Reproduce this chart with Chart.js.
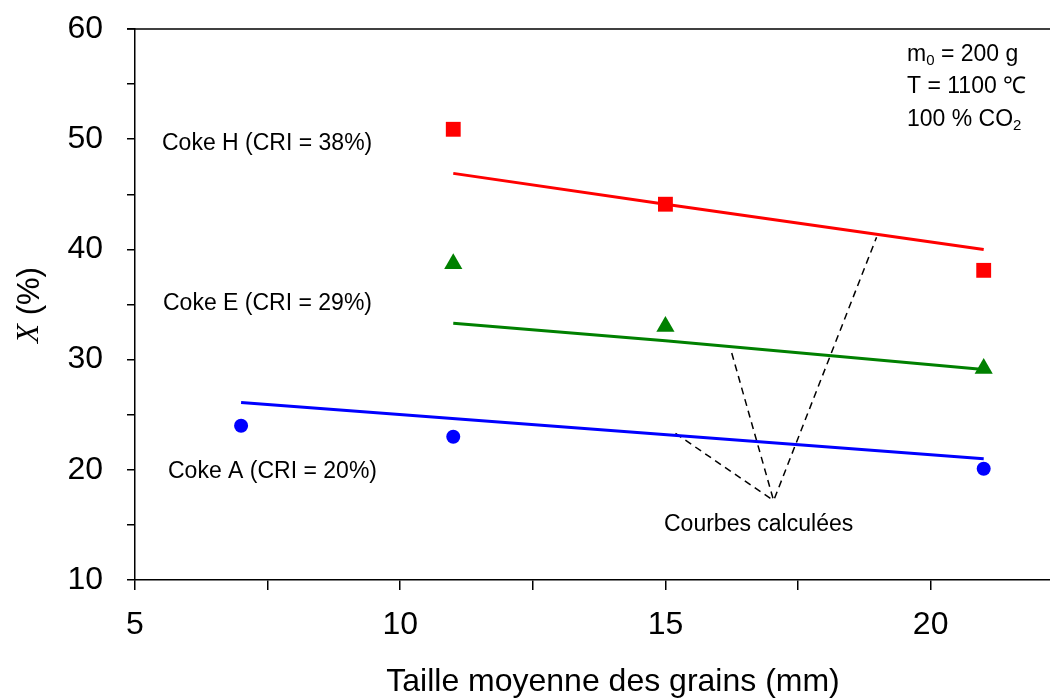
<!DOCTYPE html>
<html>
<head>
<meta charset="utf-8">
<script src="https://cdn.jsdelivr.net/npm/chart.js@4"></script>
<style>
  body { margin: 0; background: #fff; }
  #wrap { width: 1050px; height: 700px; position: relative; }
</style>
</head>
<body>
<div id="wrap"><canvas id="chart"></canvas></div>
<script>
// measured points (grain size mm, conversion %)
const cokeH_x = [11, 15, 21];
const cokeH_y = [50.9, 44.1, 38.1];
const cokeE_x = [11, 15, 21];
const cokeE_y = [38.7, 33.0, 29.2];
const cokeA_x = [7, 11, 21];
const cokeA_y = [24.0, 23.0, 20.1];

// calculated curves
const calcH_x = [11, 15, 21];
const calcH_y = [46.9, 44.1, 40.0];
const calcE_x = [11, 15, 21];
const calcE_y = [33.3, 31.7, 29.1];
const calcA_x = [7, 21];
const calcA_y = [26.1, 21.0];

// dashed pointers to "Courbes calculées"
const pointerA_x = [15.19, 17.04];
const pointerA_y = [23.3, 17.2];
const pointerEH_x = [16.25, 17.04, 18.98];
const pointerEH_y = [30.6, 17.2, 41.1];

const xTicks = [5, 7.5, 10, 12.5, 15, 17.5, 20];
const yTicks = [10, 15, 20, 25, 30, 35, 40, 45, 50, 55, 60];

const FONT = "'Liberation Sans', Arial, sans-serif";

function pts(xs, ys) {
    return xs.map((x, i) => ({ x: x, y: ys[i] }));
}

const textPlugin = {
    id: 'texts',
    afterDraw(chart) {
        const ctx = chart.ctx;
        const area = chart.chartArea;
        ctx.save();
        // top frame line
        ctx.strokeStyle = '#000';
        ctx.lineWidth = 1.5;
        ctx.beginPath();
        ctx.moveTo(area.left - 8, area.top);
        ctx.lineTo(area.right, area.top);
        ctx.stroke();

        ctx.fillStyle = '#000';
        ctx.textBaseline = 'middle';
        ctx.textAlign = 'left';
        ctx.font = '23px ' + FONT;
        ctx.fillText('Coke H (CRI = 38%)', 162, 144);
        ctx.fillText('Coke E (CRI = 29%)', 163, 304);
        ctx.fillText('Coke A (CRI = 20%)', 168, 472);
        ctx.fillText('Courbes calculées', 664, 525);

        // conditions box
        let x = 907;
        ctx.fillText('m', x, 55);
        x += ctx.measureText('m').width;
        ctx.font = '15px ' + FONT;
        ctx.fillText('0', x, 61);
        x += ctx.measureText('0').width;
        ctx.font = '23px ' + FONT;
        ctx.fillText(' = 200 g', x, 55);
        ctx.fillText('T = 1100 ℃', 907, 87);
        ctx.fillText('100 % CO', 907, 120);
        const w = ctx.measureText('100 % CO').width;
        ctx.font = '15px ' + FONT;
        ctx.fillText('2', 907 + w, 126);

        // x axis title
        ctx.font = '32px ' + FONT;
        ctx.textAlign = 'center';
        ctx.fillText('Taille moyenne des grains (mm)', 613, 682);

        // y axis title
        ctx.translate(30, 305);
        ctx.rotate(-Math.PI / 2);
        ctx.textAlign = 'left';
        const fX = "italic 31px 'Liberation Serif', 'Times New Roman', serif";
        const fP = '31px ' + FONT;
        ctx.font = fX;
        const wX = ctx.measureText('X').width;
        ctx.font = fP;
        const wP = ctx.measureText(' (%)').width;
        const start = -(wX + wP) / 2;
        ctx.font = fX;
        ctx.fillText('X', start, 0);
        ctx.font = fP;
        ctx.fillText(' (%)', start + wX, 0);
        ctx.restore();
    }
};

const ctx = document.getElementById('chart').getContext('2d');
new Chart(ctx, {
    type: 'scatter',
    data: {
        datasets: [
            { data: pts(calcH_x, calcH_y), showLine: true, borderColor: '#ff0000', borderWidth: 3, pointRadius: 0, fill: false },
            { data: pts(calcE_x, calcE_y), showLine: true, borderColor: '#008000', borderWidth: 3, pointRadius: 0, fill: false },
            { data: pts(calcA_x, calcA_y), showLine: true, borderColor: '#0000ff', borderWidth: 3, pointRadius: 0, fill: false },
            { data: pts(pointerA_x, pointerA_y), showLine: true, borderColor: '#000', borderWidth: 1.5, borderDash: [7, 5], pointRadius: 0, fill: false },
            { data: pts(pointerEH_x, pointerEH_y), showLine: true, borderColor: '#000', borderWidth: 1.5, borderDash: [7, 5], pointRadius: 0, fill: false },
            { data: pts(cokeH_x, cokeH_y), pointStyle: 'rect', pointRadius: 10.5, backgroundColor: '#ff0000', borderColor: '#ff0000', borderWidth: 0 },
            { data: pts(cokeE_x, cokeE_y), pointStyle: 'triangle', pointRadius: 10.5, backgroundColor: '#008000', borderColor: '#008000', borderWidth: 0 },
            { data: pts(cokeA_x, cokeA_y), pointStyle: 'circle', pointRadius: 7, backgroundColor: '#0000ff', borderColor: '#0000ff', borderWidth: 0 }
        ]
    },
    options: {
        responsive: true,
        maintainAspectRatio: false,
        animation: false,
        devicePixelRatio: 1,
        layout: { autoPadding: false, padding: { top: 29, right: 0, left: 0, bottom: 0 } },
        plugins: {
            legend: { display: false },
            tooltip: { enabled: false }
        },
        scales: {
            x: {
                type: 'linear',
                min: 5,
                max: 22.25,
                afterBuildTicks: (scale) => { scale.ticks = xTicks.map(v => ({ value: v })); },
                afterFit: (scale) => {
                    scale.height = 120;
                    scale.paddingLeft = 0;
                    scale.paddingRight = 0;
                },
                ticks: {
                    color: '#000',
                    font: { family: FONT, size: 32 },
                    padding: 16,
                    maxRotation: 0,
                    autoSkip: false,
                    callback: (v) => (v % 5 === 0 ? v : '')
                },
                grid: { drawOnChartArea: false, drawTicks: true, tickLength: 10, color: '#000', lineWidth: 1.5 },
                border: { display: true, color: '#000', width: 1.5 }
            },
            y: {
                type: 'linear',
                min: 10,
                max: 60,
                afterBuildTicks: (scale) => { scale.ticks = yTicks.map(v => ({ value: v })); },
                afterFit: (scale) => {
                    scale.width = 135;
                    scale.paddingTop = 0;
                    scale.paddingBottom = 0;
                },
                ticks: {
                    color: '#000',
                    font: { family: FONT, size: 32 },
                    padding: 24,
                    autoSkip: false,
                    callback: (v) => (v % 10 === 0 ? v : '')
                },
                grid: { drawOnChartArea: false, drawTicks: true, tickLength: 8, color: '#000', lineWidth: 1.5 },
                border: { display: true, color: '#000', width: 1.5 }
            }
        }
    },
    plugins: [textPlugin]
});
</script>
</body>
</html>
